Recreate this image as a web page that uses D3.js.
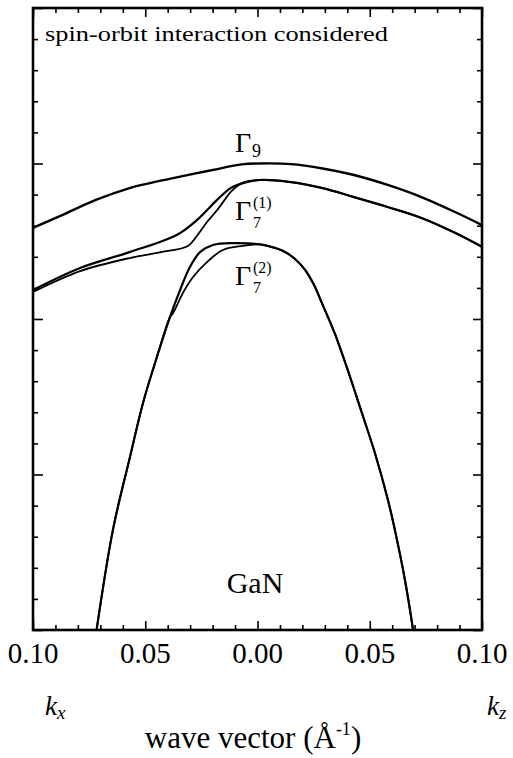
<!DOCTYPE html>
<html>
<head>
<meta charset="utf-8">
<script src="https://cdn.jsdelivr.net/npm/d3@7"></script>
<style>
  html, body { margin: 0; padding: 0; background: #fff; }
  svg { display: block; }
  text { font-family: "Liberation Serif", "Times New Roman", serif; fill: #000; }
</style>
</head>
<body>
<svg id="chart" width="513" height="758"></svg>
<script>
// Wave vector k (Å^-1): negative values run along k_x, positive along k_z.
// Energies in meV relative to the Γ9 band edge.

// Γ9 band (single curve across both directions)
const kGamma9 = [-0.100, -0.087, -0.072, -0.057, -0.048, -0.035, -0.020, -0.007, 0.001, 0.015, 0.029, 0.043, 0.058, 0.073, 0.088, 0.100];
const eGamma9 = [-20.7, -16.6, -11.7, -7.9, -6.3, -4.3, -2.1, -0.3, 0.0, -0.2, -1.6, -3.7, -6.9, -10.8, -15.6, -19.8];

// Γ7(1): two split branches along k_x, one shared curve along k_z
const kGamma71Upper = [-0.100, -0.079, -0.057, -0.036, -0.027, -0.018, -0.012, -0.0065];
const eGamma71Upper = [-40.7, -33.6, -28.5, -23.0, -18.2, -11.7, -7.9, -6.3];
const kGamma71Lower = [-0.100, -0.079, -0.057, -0.043, -0.031, -0.027, -0.0225, -0.018, -0.012, -0.009, -0.0056];
const eGamma71Lower = [-41.3, -34.6, -30.4, -28.5, -26.5, -23.3, -18.8, -15.0, -9.2, -7.2, -5.9];
const kGamma71Z = [0.001, 0.014, 0.029, 0.043, 0.058, 0.073, 0.088, 0.100];
const eGamma71Z = [-5.3, -5.9, -7.9, -10.8, -14.0, -17.5, -22.3, -26.8];

// Γ7(2): two split branches along k_x, one shared curve along k_z
const kGamma72Outer = [-0.0723, -0.0644, -0.0568, -0.051, -0.0448, -0.039, -0.0345, -0.0301, -0.0256, -0.0198, -0.0109];
const eGamma72Outer = [-153.0, -117.8, -94.4, -77.0, -62.2, -49.4, -40.7, -33.3, -28.5, -26.2, -25.6];
const kGamma72Inner = [-0.0723, -0.0644, -0.0568, -0.051, -0.0448, -0.039, -0.0376, -0.0332, -0.0287, -0.0225, -0.0154, -0.0065];
const eGamma72Inner = [-153.0, -117.8, -94.4, -77.0, -62.2, -49.4, -48.1, -41.6, -36.5, -31.7, -27.8, -26.5];
const kGamma72Z = [0.001, 0.0056, 0.0114, 0.0167, 0.0212, 0.0252, 0.0287, 0.0345, 0.0408, 0.0465, 0.0523, 0.0581, 0.0617, 0.0657, 0.0693, 0.0699];
const eGamma72Z = [-26.0, -26.7, -28.1, -30.7, -34.2, -39.1, -44.9, -54.8, -67.7, -80.2, -93.1, -108.2, -119.5, -134.0, -150.0, -153.2];

// Axis ticks
const xMajorTicks = [-0.10, -0.05, 0.00, 0.05, 0.10];
const xTickLabels = ["0.10", "0.05", "0.00", "0.05", "0.10"];
const xMinorStep = 0.01;
const yDomain = [-150, 50];
const yMinorStep = 10;
const yMajorStep = 50;

const svg = d3.select("#chart");
const plot = { left: 33, right: 482, top: 8, bottom: 630 };

const x = d3.scaleLinear().domain([-0.1, 0.1]).range([plot.left, plot.right]);
const y = d3.scaleLinear().domain(yDomain).range([plot.bottom, plot.top]);

const zip = (ks, es) => ks.map((k, i) => [k, es[i]]);

const bands = [
  { pts: zip(kGamma9, eGamma9), w: 2.4 },
  { pts: zip(kGamma71Upper, eGamma71Upper).concat(zip(kGamma71Z, eGamma71Z)), w: 2.2 },
  { pts: zip(kGamma71Lower, eGamma71Lower).concat(zip(kGamma71Z, eGamma71Z)), w: 1.8 },
  { pts: zip(kGamma72Outer, eGamma72Outer).concat(zip(kGamma72Z, eGamma72Z)), w: 2.2 },
  { pts: zip(kGamma72Inner, eGamma72Inner).concat(zip(kGamma72Z, eGamma72Z)), w: 1.8 }
];

svg.append("defs").append("clipPath").attr("id", "plotClip")
  .append("rect")
  .attr("x", plot.left).attr("y", plot.top)
  .attr("width", plot.right - plot.left).attr("height", plot.bottom - plot.top);

const line = d3.line()
  .x(d => x(d[0]))
  .y(d => y(d[1]))
  .curve(d3.curveCatmullRom.alpha(0.5));

svg.append("g").attr("clip-path", "url(#plotClip)")
  .selectAll("path").data(bands).join("path")
  .attr("d", d => line(d.pts))
  .attr("fill", "none")
  .attr("stroke", "#000")
  .attr("stroke-width", d => d.w)
  .attr("stroke-linejoin", "round");

// Inward ticks on all four sides
const xMinor = d3.range(-0.1, 0.1001, xMinorStep).map(v => +v.toFixed(3));
const isXMajor = v => xMajorTicks.some(m => Math.abs(m - v) < 1e-6);
const yTicks = d3.range(yDomain[0], yDomain[1] + 0.1, yMinorStep);
const isYMajor = v => Math.abs(v % yMajorStep) < 1e-6;

const bottomAxis = d3.axisBottom(x).tickValues(xMinor)
  .tickSizeInner(0).tickSizeOuter(0).tickFormat("");
const gB = svg.append("g").attr("transform", `translate(0,${plot.bottom})`).call(bottomAxis);
gB.selectAll(".tick line").attr("y2", d => isXMajor(d) ? -9 : -5);

const topAxis = d3.axisTop(x).tickValues(xMinor)
  .tickSizeInner(0).tickSizeOuter(0).tickFormat("");
const gT = svg.append("g").attr("transform", `translate(0,${plot.top})`).call(topAxis);
gT.selectAll(".tick line").attr("y2", d => isXMajor(d) ? 9 : 5);

const leftAxis = d3.axisLeft(y).tickValues(yTicks)
  .tickSizeInner(0).tickSizeOuter(0).tickFormat("");
const gL = svg.append("g").attr("transform", `translate(${plot.left},0)`).call(leftAxis);
gL.selectAll(".tick line").attr("x2", d => isYMajor(d) ? 10 : 5);

const rightAxis = d3.axisRight(y).tickValues(yTicks)
  .tickSizeInner(0).tickSizeOuter(0).tickFormat("");
const gR = svg.append("g").attr("transform", `translate(${plot.right},0)`).call(rightAxis);
gR.selectAll(".tick line").attr("x2", d => isYMajor(d) ? -9 : -5);

svg.selectAll(".domain").remove();
svg.selectAll(".tick line").attr("stroke", "#000").attr("stroke-width", 1.6);

// Frame
svg.append("rect")
  .attr("x", plot.left).attr("y", plot.top)
  .attr("width", plot.right - plot.left).attr("height", plot.bottom - plot.top)
  .attr("fill", "none").attr("stroke", "#000").attr("stroke-width", 2.6);

// Tick labels
svg.append("g").selectAll("text").data(xMajorTicks).join("text")
  .attr("x", d => x(d)).attr("y", 663)
  .attr("text-anchor", "middle")
  .attr("font-size", 29)
  .text((d, i) => xTickLabels[i]);

// Direction labels
function kLabel(px, sub) {
  const t = svg.append("text").attr("x", px).attr("y", 715)
    .attr("font-size", 27).attr("font-style", "italic");
  t.append("tspan").text("k");
  t.append("tspan").attr("font-size", 19).attr("dy", 4).text(sub);
}
kLabel(45, "x");
kLabel(487, "z");

// Axis title
const title = svg.append("text").attr("x", 253).attr("y", 748)
  .attr("text-anchor", "middle").attr("font-size", 31);
title.append("tspan").text("wave vector (Å");
title.append("tspan").attr("font-size", 18).attr("dy", -13).text("-1");
title.append("tspan").attr("dy", 13).text(")");

// Annotation
svg.append("text").attr("x", 45).attr("y", 41)
  .attr("font-size", 22)
  .attr("textLength", 343)
  .attr("lengthAdjust", "spacingAndGlyphs")
  .text("spin-orbit interaction considered");

// Band labels
function gammaLabel(bx, by, sub, sup) {
  svg.append("text").attr("x", bx).attr("y", by).attr("font-size", 28).text("Γ");
  if (sup) {
    svg.append("text").attr("x", bx + 18).attr("y", by - 12).attr("font-size", 16).text(sup);
    svg.append("text").attr("x", bx + 18).attr("y", by + 8).attr("font-size", 16).text(sub);
  } else {
    svg.append("text").attr("x", bx + 17).attr("y", by + 5).attr("font-size", 18).text(sub);
  }
}
gammaLabel(235, 152, "9", null);
gammaLabel(235, 220, "7", "(1)");
gammaLabel(235, 285, "7", "(2)");

svg.append("text").attr("x", 255).attr("y", 593)
  .attr("text-anchor", "middle").attr("font-size", 30).text("GaN");
</script>
</body>
</html>
